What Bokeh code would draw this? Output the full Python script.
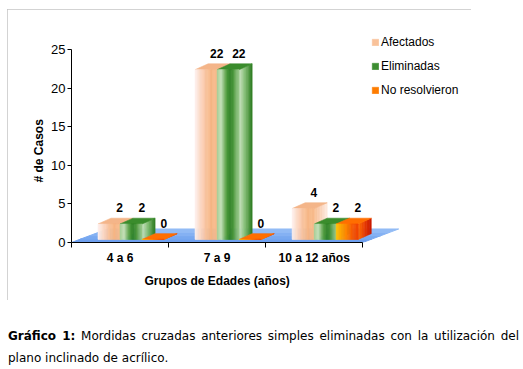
from bokeh.plotting import figure
from bokeh.models import (Range1d, FixedTicker, ColumnDataSource, LabelSet, Legend,
                          LegendItem, Div, Title)
from bokeh.layouts import column
from bokeh.embed import file_html
from bokeh.resources import INLINE
from bokeh.core.properties import value

# ---------------- data ----------------
categories = ["4 a 6", "7 a 9", "10 a 12 años"]
series_names = ["Afectados", "Eliminadas", "No resolvieron"]
afectados = [2, 22, 4]
eliminadas = [2, 22, 2]
no_resolvieron = [0, 0, 2]
y_ticks = [0, 5, 10, 15, 20, 25]
y_title = "# de Casos"
x_title = "Grupos de Edades (años)"
caption_bold = "Gráfico 1:"
caption_lines = ["Mordidas cruzadas anteriores simples eliminadas con la utilización del",
                 "plano inclinado de acrílico."]

series_values = [afectados, eliminadas, no_resolvieron]

# ---------------- style ----------------
FONT = "Liberation Sans"
BAR_W = 0.227          # width of one bar (category units)
BASE = 0.4             # bars stand slightly inside the floor
DX, DY = 0.134, 0.75   # 3-D depth of bars
FDX, FDY = 0.37, 1.75  # 3-D depth of floor
NSTRIP = 18            # gradient resolution of front faces
NSIDE = 8              # gradient resolution of side faces

front_stops = [
    ["#fdf2f0", "#fcd9c6", "#f9c39d", "#f7b684", "#f8bb8c"],
    ["#a3cf96", "#c3e0ba", "#5ea64e", "#2a7f21", "#5aa04a", "#9ccb8f"],
    ["#ffc400", "#ffa000", "#ff8000", "#f65800", "#ef4200"],
]
side_stops = [
    ["#f7bd93", "#fad2b6", "#fdebe2"],
    ["#cfe6c7", "#7db96e", "#2a7a1e"],
    ["#ff7000", "#e83c00", "#c81800"],
]
top_col = ["#f4b589", "#3a8c2c", "#ff6e00"]
floor_pal = ["#6e9fee", "#78a8f0", "#84b1f3", "#92bbf5"]


def ramp(stops, n):
    """n colours evenly interpolated through the given stops."""
    rgb = [tuple(int(s[i:i + 2], 16) for i in (1, 3, 5)) for s in stops]
    out = []
    for k in range(n):
        t = (k + 0.5) / n * (len(rgb) - 1)
        j = min(int(t), len(rgb) - 2)
        f = t - j
        c = [round(rgb[j][q] + (rgb[j + 1][q] - rgb[j][q]) * f) for q in range(3)]
        out.append("#%02x%02x%02x" % tuple(c))
    return out


front_pal = [ramp(s, NSTRIP) for s in front_stops]
side_pal = [ramp(s, NSIDE) for s in side_stops]

p = figure(width=464, height=291, x_range=Range1d(-0.5, 3.6), y_range=Range1d(0, 27.6),
           output_backend="svg", toolbar_location=None,
           min_border_left=64, min_border_right=2, min_border_top=20, min_border_bottom=58,
           margin=(9, 0, 0, 7))
p.outline_line_color = None
p.grid.visible = False
p.background_fill_color = "white"
p.border_fill_color = "white"
p.styles = {"outline": "1px solid #c4c4c4", "outline-offset": "-1px"}

n_cat = len(categories)

# ---------------- floor ----------------
fx, fy = [], []
nf = len(floor_pal)
for k in range(nf):
    t0, t1 = k / nf, (k + 1) / nf
    fx.append([-0.5 + FDX * t0, n_cat - 0.5 + FDX * t0, n_cat - 0.5 + FDX * t1, -0.5 + FDX * t1])
    fy.append([FDY * t0, FDY * t0, FDY * t1, FDY * t1])
p.patches(fx, fy, fill_color=floor_pal, line_color=floor_pal, line_width=1)

# ---------------- bars ----------------
side_x, side_y, side_c = [], [], []
top_x, top_y, top_c = [], [], []
fronts = []
lab_x, lab_y, lab_t = [], [], []
for si, vals in enumerate(series_values):
    fl, fr, fb, ft, fc = [], [], [], [], []
    for gi, v in enumerate(vals):
        x0 = gi - BAR_W + si * BAR_W
        x1 = x0 + BAR_W
        top = BASE + v
        n = len(front_pal[si])
        for k in range(n):
            fl.append(x0 + BAR_W * k / n)
            fr.append(x0 + BAR_W * (k + 1) / n)
            fb.append(BASE)
            ft.append(top)
            fc.append(front_pal[si][k])
        m = len(side_pal[si])
        for k in range(m):
            a, b = x1 + DX * k / m, x1 + DX * (k + 1) / m
            ya, yb = DY * k / m, DY * (k + 1) / m
            side_x.append([a, b, b, a])
            side_y.append([BASE + ya, BASE + yb, top + yb, top + ya])
            side_c.append(side_pal[si][k])
        top_x.append([x0, x1, x1 + DX, x0 + DX])
        top_y.append([top, top, top + DY, top + DY])
        top_c.append(top_col[si])
        lab_x.append((x0 + x1) / 2 + 0.11)
        lab_y.append(top + DY)
        lab_t.append(str(v))
    fronts.append(dict(left=fl, right=fr, bottom=fb, top=ft, color=fc))

p.patches(side_x, side_y, fill_color=side_c, line_color=side_c, line_width=0.6)
p.patches(top_x, top_y, fill_color=top_c, line_color=top_c, line_width=0.6)
front_renderers = []
for d in fronts:
    src = ColumnDataSource(d)
    r = p.quad(left="left", right="right", bottom="bottom", top="top", source=src,
               fill_color="color", line_color="color", line_width=0.6)
    front_renderers.append(r)

labels = LabelSet(x="x", y="y", text="t", source=ColumnDataSource(dict(x=lab_x, y=lab_y, t=lab_t)),
                  text_align="center", text_baseline="bottom", y_offset=6,
                  text_font=value(FONT), text_font_size="12px", text_font_style="bold",
                  text_color="black")
p.add_layout(labels)

# ---------------- axes ----------------
xa = p.xaxis[0]
xa.ticker = FixedTicker(ticks=list(range(n_cat)),
                        minor_ticks=[i - 0.5 for i in range(n_cat + 1)])
xa.major_label_overrides = {i: c for i, c in enumerate(categories)}
xa.bounds = (-0.5, n_cat - 0.5)
xa.major_tick_out = 0
xa.major_tick_in = 0
xa.minor_tick_out = 5
xa.minor_tick_in = 0
xa.minor_tick_line_color = "black"
xa.major_label_standoff = 3
xa.major_label_text_font = FONT
xa.major_label_text_font_size = "12px"
xa.major_label_text_font_style = "bold"
xa.major_label_text_color = "black"
xa.axis_line_color = "black"

ya = p.yaxis[0]
ya.ticker = FixedTicker(ticks=y_ticks, minor_ticks=[])
ya.bounds = (y_ticks[0], y_ticks[-1])
ya.major_tick_out = 4
ya.major_tick_in = 0
ya.minor_tick_out = 0
ya.minor_tick_in = 0
ya.major_label_standoff = 2
ya.major_label_text_font = FONT
ya.major_label_text_font_size = "13px"
ya.major_label_text_color = "black"
ya.axis_line_color = "black"

# axis titles (side-panel titles so they can be centred on the axis span)
xt = Title(text=x_title, align="left", offset=73, standoff=8,
           text_font=FONT, text_font_size="12px", text_font_style="bold", text_color="black")
p.add_layout(xt, "below")
yt = Title(text=y_title, align="left", offset=60, standoff=5,
           text_font=FONT, text_font_size="12px", text_font_style="bold", text_color="black")
p.add_layout(yt, "left")

# ---------------- legend ----------------
items = [LegendItem(label=name, renderers=[r], index=NSTRIP // 2)
         for name, r in zip(series_names, front_renderers)]
legend = Legend(items=items, location=(300, 145), orientation="vertical",
                glyph_width=8, glyph_height=8, label_standoff=2, spacing=10,
                label_height=14, padding=0, margin=0, border_line_color=None,
                background_fill_alpha=0, label_text_font=FONT,
                label_text_font_size="12px", label_text_color="black")
p.add_layout(legend)

# ---------------- caption ----------------
cap_html = (
    f'<div style="width: 511px; text-align: justify; text-align-last: justify;">'
    f'<b>{caption_bold}</b> <span>{caption_lines[0]}</span></div>'
    f'<div style="width: 511px; text-align: left;">{caption_lines[1]}</div>'
)
cap = Div(text=cap_html, width=513, height=69, margin=(0, 0, 0, 8),
          styles={"font-family": "DejaVu Sans", "font-size": "12px", "line-height": "22px",
                  "color": "#000000", "padding-top": "25px", "box-sizing": "border-box"})

layout = column(p, cap, spacing=0)
open("out.html", "w").write(file_html(layout, INLINE))
